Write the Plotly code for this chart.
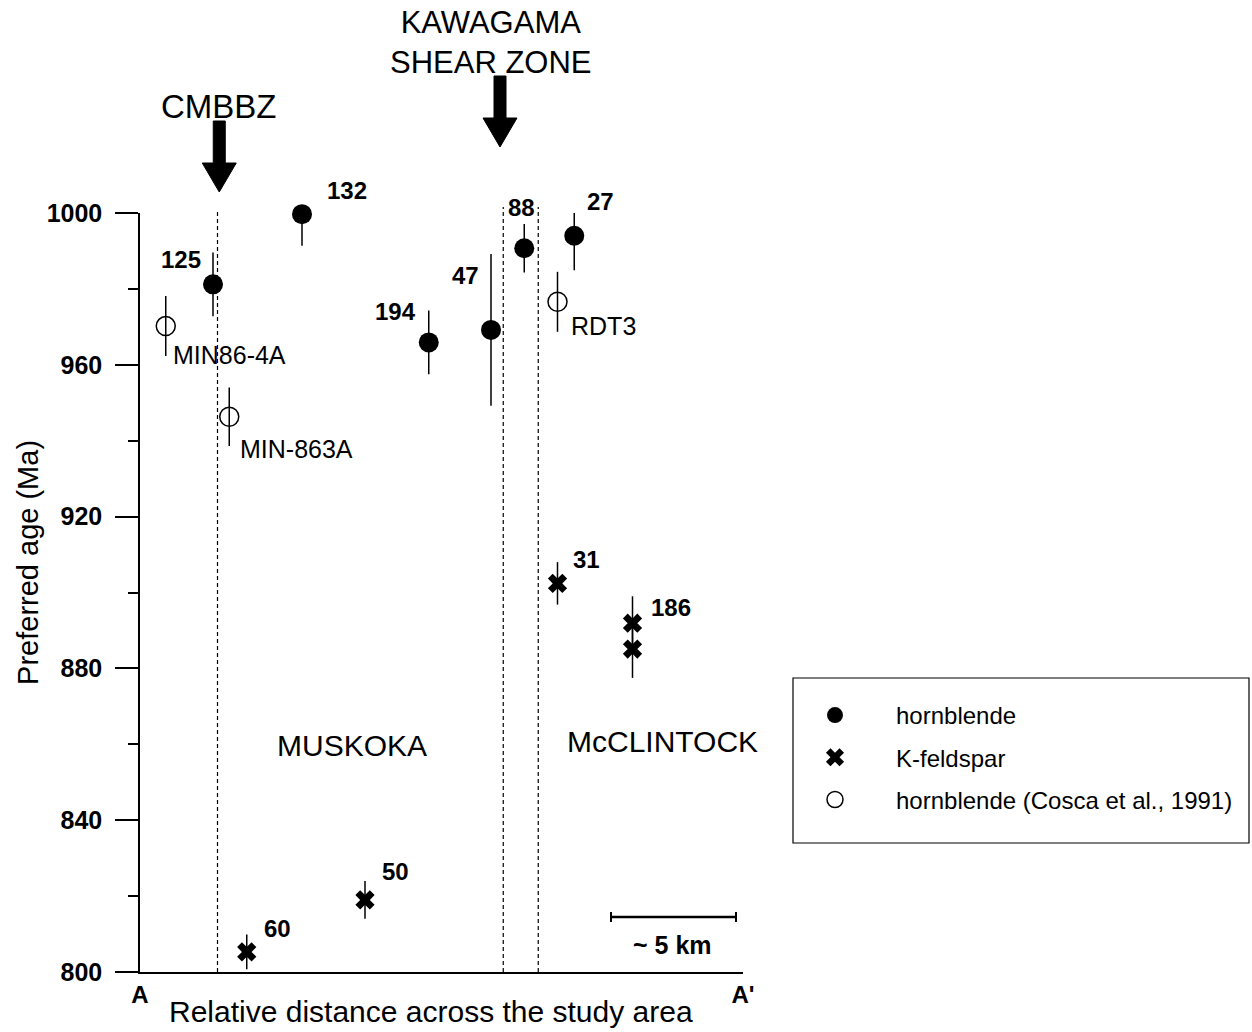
import plotly.graph_objects as go

# ---------------- data ----------------
# hornblende (this study)
hbl_labels = ["125", "132", "194", "47", "88", "27"]
hbl_x = [2.92, 6.48, 11.55, 14.04, 15.37, 17.37]          # relative distance (km)
hbl_age = [981.2, 999.7, 965.9, 969.2, 990.7, 994.0]      # Ma
hbl_err = [8.4, 8.3, 8.4, 20.0, 6.4, 9.1]

# K-feldspar
kfs_labels = ["60", "50", "31", "186", ""]
kfs_x = [4.27, 9.0, 16.7, 19.7, 19.7]
kfs_age = [805.3, 819.0, 902.4, 891.9, 885.1]
kfs_err = [4.6, 5.0, 5.6, 7.1, 7.6]

# hornblende (Cosca et al., 1991)
cos_labels = ["MIN86-4A", "MIN-863A", "RDT3"]
cos_x = [1.03, 3.57, 16.7]
cos_age = [970.2, 946.3, 976.6]
cos_err = [7.9, 7.7, 7.9]

# structural features
cmbbz_x = 3.1
cmbbz_arrow_x = 3.17
shear_zone_x = [14.53, 15.93]
shear_arrow_x = 14.4
profile_length_km = 24.12
scale_bar_km = 5
scale_bar_start = 18.84
scale_bar_age = 814.5

region_names = ["MUSKOKA", "McCLINTOCK"]
region_x = [8.48, 20.9]
region_age = [859.8, 860.8]

y_range = [800, 1000]
x_ticktext = ["A", "A'"]

FONT = "Liberation Sans, Arial, sans-serif"
PLOT_H = 759  # plot area height in px (for small paper offsets)

fig = go.Figure()

err_style = dict(type="data", symmetric=True, color="black", thickness=1.5, width=0)

fig.add_trace(go.Scatter(
    x=hbl_x, y=hbl_age, mode="markers", name="hornblende",
    legendgroup="a",
    marker=dict(symbol="circle", size=20, color="black"),
    error_y=dict(array=hbl_err, **err_style), cliponaxis=False))

fig.add_trace(go.Scatter(
    x=kfs_x, y=kfs_age, mode="markers", name="K-feldspar",
    legendgroup="b",
    marker=dict(symbol="x", size=17, color="black", line=dict(width=0)),
    error_y=dict(array=kfs_err, **err_style), cliponaxis=False))

fig.add_trace(go.Scatter(
    x=cos_x, y=cos_age, mode="markers", name="hornblende (Cosca et al., 1991)",
    legendgroup="c",
    marker=dict(symbol="circle-open", size=19, color="black", line=dict(width=1.5)),
    error_y=dict(array=cos_err, **err_style), cliponaxis=False))

annotations = []

# point label placement: (xanchor, xshift, yshift)
hbl_off = [("right", -10, 25), ("left", 23, 24), ("right", -11, 31),
           ("right", -10, 54), ("center", -3, 41), ("left", 11, 34)]
kfs_off = [("left", 15, 23), ("left", 15, 28), ("left", 13, 24), ("left", 16, 16), ("left", 0, 0)]
cos_off = [("left", 5, -29), ("left", 9, -32), ("left", 11, -24)]

def add_labels(labels, xs, ys, offs, bold, size):
    for lab, x, y, (xa, dx, dy) in zip(labels, xs, ys, offs):
        if not lab:
            continue
        txt = f"<b>{lab}</b>" if bold else lab
        annotations.append(dict(x=x, y=y, text=txt, showarrow=False,
                                xanchor=xa, yanchor="middle", xshift=dx, yshift=dy,
                                font=dict(family=FONT, size=size, color="black")))

add_labels(hbl_labels, hbl_x, hbl_age, hbl_off, True, 24)
add_labels(kfs_labels, kfs_x, kfs_age, kfs_off, True, 24)
add_labels(cos_labels, cos_x, cos_age, cos_off, False, 25)

# region names
for nm, x, y in zip(region_names, region_x, region_age):
    annotations.append(dict(x=x, y=y, text=nm, showarrow=False, xanchor="center",
                            yanchor="middle", font=dict(family=FONT, size=30, color="black")))

# zone titles
annotations.append(dict(x=cmbbz_arrow_x, y=1000, text="CMBBZ", showarrow=False,
                        xanchor="center", yanchor="middle", yshift=107,
                        font=dict(family=FONT, size=33, color="black")))
annotations.append(dict(x=14.05, y=1000, text="KAWAGAMA<br>SHEAR ZONE", showarrow=False,
                        xanchor="center", yanchor="middle", align="center", yshift=171,
                        font=dict(family=FONT, size=31, color="black")))

# axis titles
annotations.append(dict(xref="paper", yref="paper", x=-0.1857, y=0.539,
                        text="Preferred age (Ma)", textangle=-90, showarrow=False,
                        xanchor="center", yanchor="middle",
                        font=dict(family=FONT, size=29, color="black")))
annotations.append(dict(xref="paper", yref="paper", x=0.4834, y=-0.0527,
                        text="Relative distance across the study area", showarrow=False,
                        xanchor="center", yanchor="middle",
                        font=dict(family=FONT, size=30, color="black")))

# scale bar label
annotations.append(dict(x=scale_bar_start + scale_bar_km / 2 - 0.06, y=scale_bar_age, text="<b>~ 5 km</b>",
                        showarrow=False, xanchor="center", yanchor="middle", yshift=-28,
                        font=dict(family=FONT, size=25, color="black")))

shapes = []
dash_line = dict(color="black", width=1.2, dash="4px,3px")
# dashed boundary lines (top slightly above the axis top)
shapes.append(dict(type="line", xref="x", yref="paper", x0=cmbbz_x, x1=cmbbz_x,
                   y0=0, y1=1 + 3 / PLOT_H, line=dash_line))
for sx in shear_zone_x:
    shapes.append(dict(type="line", xref="x", yref="paper", x0=sx, x1=sx,
                       y0=0, y1=1 + 6 / PLOT_H, line=dash_line))

# arrows (pixel-sized, anchored at the top of the plot area)
def arrow(x_km, tip, base, top):
    p = f"M-6,{top} L6,{top} L6,{base} L17,{base} L0,{tip} L-17,{base} L-6,{base} Z"
    return dict(type="path", xref="paper", yref="paper",
                xsizemode="pixel", ysizemode="pixel",
                xanchor=x_km / profile_length_km, yanchor=1,
                path=p, fillcolor="black", line=dict(color="black", width=1))

shapes.append(arrow(cmbbz_arrow_x, 21, 50, 92))
shapes.append(arrow(shear_arrow_x, 66, 95, 137))

# scale bar
shapes.append(dict(type="line", x0=scale_bar_start, x1=scale_bar_start + scale_bar_km,
                   y0=scale_bar_age, y1=scale_bar_age, line=dict(color="black", width=2.5)))
for sx in [scale_bar_start, scale_bar_start + scale_bar_km]:
    shapes.append(dict(type="line", xsizemode="pixel", ysizemode="pixel",
                       xanchor=sx, yanchor=scale_bar_age, x0=0, x1=0, y0=-5, y1=5,
                       line=dict(color="black", width=2)))

# legend frame
shapes.append(dict(type="rect", xref="paper", yref="paper",
                   x0=(793 - 140) / 603, x1=(1249 - 140) / 603,
                   y0=(972 - 843) / 759, y1=(972 - 678) / 759,
                   line=dict(color="black", width=1.2), fillcolor="rgba(0,0,0,0)"))

fig.update_layout(
    width=1252, height=1032,
    margin=dict(l=140, r=509, t=213, b=60),
    plot_bgcolor="white", paper_bgcolor="white",
    font=dict(family=FONT, size=24, color="black"),
    showlegend=True,
    legend=dict(x=(774 - 140) / 603, y=(972 - 693) / 759, xanchor="left", yanchor="top",
                bgcolor="rgba(0,0,0,0)", borderwidth=0, itemwidth=112,
                tracegroupgap=8, font=dict(family=FONT, size=24, color="black")),
    annotations=annotations,
    shapes=shapes,
)

fig.update_xaxes(range=[0, profile_length_km], showline=True, linecolor="black", linewidth=1.5,
                 showgrid=False, zeroline=False, ticks="",
                 tickvals=[0, profile_length_km], ticktext=[f"<b>{t}</b>" for t in x_ticktext],
                 tickfont=dict(family=FONT, size=24, color="black"))
fig.update_yaxes(range=y_range, showline=True, linecolor="black", linewidth=1.5,
                 showgrid=False, zeroline=False, ticks="outside", ticklen=23, tickwidth=1.5,
                 tickcolor="black", dtick=40, tick0=800, ticklabelstandoff=8,
                 tickfont=dict(family=FONT, size=25, color="black"),
                 tickprefix="<b>", ticksuffix="</b>",
                 minor=dict(ticks="outside", ticklen=10, tickwidth=1.5, tickcolor="black", dtick=20))

fig.write_html("out.html")
